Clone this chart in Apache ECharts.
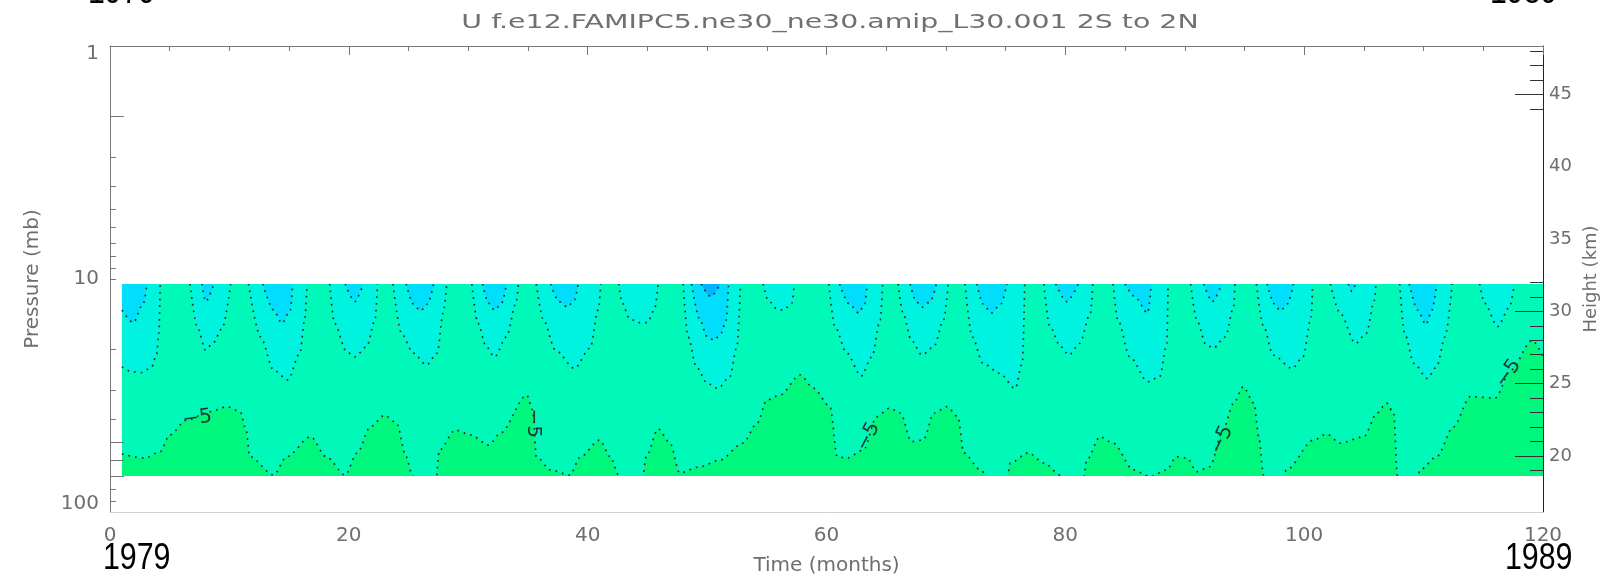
<!DOCTYPE html>
<html>
<head>
<meta charset="utf-8">
<script src="https://cdn.jsdelivr.net/npm/echarts@6.0.0/dist/echarts.min.js"></script>
<style>
  html, body { margin: 0; padding: 0; background: #fff; }
  #chart { width: 1602px; height: 579px; }
</style>
</head>
<body>
<div id="chart"></div>
<script>
// axis ticks / labels
const monthLabels = [0, 20, 40, 60, 80, 100, 120];
const monthMinorTicks = [5, 10, 15, 25, 30, 35, 45, 50, 55, 65, 70, 75, 85, 90, 95, 105, 110, 115];
const pressureLabels = [1, 10, 100];
const pressureShortTicks = [3, 4, 5, 6, 7, 8, 9, 10, 20, 30, 40, 80, 90];
const pressureLongTicks = [2, 50, 60, 70];
const heightLabels = [20, 25, 30, 35, 40, 45];
const heightMajorTicks = [20, 25, 30, 45];
const heightMinorTicks = [19, 21, 22, 23, 24, 26, 27, 28, 29, 31, 32, 44, 46, 47, 48];

// extent of the field (mb) and of the record (months)
const dataTop = 10.5;
const dataBottom = 70;
const firstMonth = 1;
const lastMonth = 120;

// -5 m/s contour [month, mb]; below 70 mb means no -5..0 band at the bottom
const contourMinus5 = [
  [1, 56.4], [2.9, 58.7], [4.2, 55.1], [5.0, 46.7], [6.4, 40.3], [8.4, 37.1], [9.8, 35.3],
  [10.9, 37.1], [11.4, 44.5], [11.7, 57.9], [13.7, 69.4], [14.8, 57.9], [16.8, 47.5],
  [18.1, 57.9], [19.7, 69.4], [20.7, 55.8], [21.8, 43.1], [23.0, 38.4], [24.0, 41.5],
  [24.8, 57.9], [25.3, 69.4], [25.7, 80], [27.2, 80], [27.6, 54.2], [28.9, 44.5],
  [30.2, 46.7], [31.7, 51.6], [32.7, 45.8], [34.9, 31.5], [35.4, 36.5], [35.7, 57.9],
  [36.9, 66.0], [38.5, 69.4], [39.4, 57.9], [41.0, 49.1], [41.9, 57.9], [42.6, 69.4],
  [43.0, 80], [44.5, 80], [44.9, 57.9], [45.9, 44.0], [46.9, 50.6], [47.7, 68.0],
  [49.4, 63.9], [51.1, 59.8], [53.0, 50.6], [54.2, 41.5], [55.0, 33.1], [56.1, 31.5],
  [57.8, 25.8], [58.9, 29.4], [60.3, 35.3], [60.9, 57.9], [61.7, 58.7], [63.1, 54.2],
  [64.2, 39.0], [65.3, 35.8], [66.2, 37.6], [67.1, 49.9], [68.1, 49.1], [69.0, 37.6],
  [70.1, 35.3], [71.0, 39.0], [71.5, 55.8], [72.9, 66.0], [73.4, 69.4], [73.8, 80],
  [75.0, 80], [75.4, 61.6], [76.9, 55.7], [78.2, 61.6], [79.6, 69.4], [80.0, 80],
  [81.4, 80], [81.8, 59.8], [82.9, 47.5], [84.0, 50.6], [85.7, 66.0], [87.1, 70.5],
  [88.5, 66.0], [89.3, 57.9], [90.2, 58.7], [91.0, 67.1], [92.1, 63.9], [93.2, 44.5],
  [94.1, 34.1], [94.9, 29.0], [95.8, 34.1], [96.2, 47.5], [96.6, 69.4], [97.0, 80],
  [98.0, 80], [98.5, 66.0], [100.8, 49.1], [101.9, 46.3], [103.0, 50.6], [105.0, 47.5],
  [106.1, 37.6], [106.9, 34.1], [107.5, 37.6], [107.8, 69.4], [108.1, 80], [109.3, 80],
  [109.7, 66.0], [111.1, 57.9], [112.5, 43.1], [113.9, 32.0], [116.0, 32.4],
  [117.3, 24.6], [119.1, 18.3], [120, 21.6]
];

// -10 m/s contour, one lobe per entry, hanging from the top of the field
const lobesMinus10 = [
  [[1, 23.8], [1.8, 25.0], [2.7, 25.2], [3.5, 23.8], [3.9, 21.0], [4.1, 17.0], [4.2, 10.5]],
  [[6.7, 10.5], [7.3, 16.0], [8.0, 20.2], [8.6, 18.9], [9.4, 16.3], [10.1, 10.5]],
  [[11.6, 10.5], [12.6, 17.7], [13.7, 24.6], [14.9, 27.1], [15.9, 20.8], [16.3, 15.0], [16.5, 10.5]],
  [[18.4, 10.5], [18.8, 15.5], [19.8, 20.5], [20.5, 21.6], [21.5, 19.5], [22.2, 15.0], [22.4, 10.5]],
  [[23.7, 10.5], [24.4, 17.1], [25.4, 20.8], [26.5, 23.4], [27.4, 20.8], [27.9, 14.0], [28.2, 10.5]],
  [[30.3, 10.5], [30.8, 15.5], [31.5, 19.5], [32.2, 21.6], [33.2, 17.7], [34.0, 12.7], [34.2, 10.5]],
  [[35.7, 10.5], [36.3, 15.0], [37.3, 20.2], [38.9, 24.2], [40.2, 19.8], [40.9, 13.5], [41.1, 10.5]],
  [[42.6, 10.5], [42.9, 12.7], [43.5, 14.8], [44.3, 15.4], [45.0, 15.4], [45.6, 13.5], [45.9, 10.5]],
  [[48.0, 10.5], [48.4, 17.7], [49.1, 23.8], [50.0, 28.0], [50.9, 29.5], [51.9, 26.3], [52.5, 19.5], [52.8, 10.5]],
  [[54.7, 10.5], [55.1, 12.3], [55.8, 13.4], [56.4, 13.6], [57.1, 12.7], [57.3, 10.5]],
  [[60.2, 10.5], [60.7, 16.0], [61.7, 20.8], [62.9, 26.1], [63.8, 21.6], [64.5, 15.0], [64.7, 10.5]],
  [[66.0, 10.5], [66.4, 14.0], [67.1, 18.3], [68.0, 21.2], [69.0, 19.5], [69.8, 15.0], [70.2, 10.5]],
  [[71.6, 10.5], [72.2, 17.7], [73.1, 23.0], [74.5, 25.4], [75.8, 29.5], [76.4, 23.0], [76.6, 10.5]],
  [[78.2, 10.5], [78.7, 16.0], [79.6, 19.5], [80.3, 21.2], [81.2, 18.9], [82.1, 14.0], [82.3, 10.5]],
  [[84.0, 10.5], [84.4, 15.0], [85.4, 21.6], [86.9, 27.6], [87.9, 26.3], [88.5, 18.9], [88.6, 10.5]],
  [[90.5, 10.5], [91.0, 15.0], [91.8, 19.2], [92.4, 19.8], [93.4, 17.7], [94.1, 13.2], [94.2, 10.5]],
  [[96.0, 10.5], [96.6, 16.0], [97.4, 21.2], [99.0, 24.2], [99.9, 21.6], [100.6, 14.5], [100.7, 10.5]],
  [[102.2, 10.5], [103.0, 14.0], [104.3, 18.9], [105.2, 17.1], [105.9, 12.3], [106.0, 10.5]],
  [[108.0, 10.5], [108.4, 17.1], [109.2, 23.0], [110.3, 26.7], [111.1, 23.8], [111.8, 17.7], [112.4, 10.5]],
  [[114.7, 10.5], [115.1, 12.7], [116.2, 16.0], [117.2, 13.2], [117.6, 10.5]]
];

// -15 m/s contour lobes
const lobesMinus15 = [
  [[1, 13.6], [1.95, 15.4], [2.8, 12.7], [3.1, 10.5]],
  [[7.7, 10.5], [8.0, 12.5], [8.7, 10.5]],
  [[12.8, 10.5], [13.7, 13.6], [14.4, 15.5], [15.1, 13.6], [15.3, 10.5]],
  [[19.7, 10.5], [20.5, 12.5], [21.2, 10.5]],
  [[24.8, 10.5], [25.4, 12.8], [26.0, 13.7], [26.6, 12.8], [27.1, 10.5]],
  [[31.2, 10.5], [31.7, 12.7], [32.2, 13.6], [32.8, 12.7], [33.2, 10.5]],
  [[36.9, 10.5], [37.6, 12.5], [38.3, 13.2], [38.9, 12.3], [39.2, 10.5]],
  [[48.7, 10.5], [49.4, 15.0], [50.0, 17.7], [50.6, 18.3], [51.2, 17.0], [51.6, 15.0], [51.8, 10.5]],
  [[61.1, 10.5], [61.9, 12.8], [62.7, 14.0], [63.2, 12.8], [63.4, 10.5]],
  [[67.0, 10.5], [67.5, 12.5], [68.0, 13.2], [68.7, 12.5], [69.2, 10.5]],
  [[72.6, 10.5], [73.1, 12.8], [73.8, 14.0], [74.6, 12.8], [75.1, 10.5]],
  [[79.2, 10.5], [80.1, 12.5], [81.1, 10.5]],
  [[85.0, 10.5], [85.8, 11.9], [86.9, 14.0], [87.2, 10.5]],
  [[91.6, 10.5], [92.3, 12.5], [93.1, 10.5]],
  [[96.9, 10.5], [97.5, 12.8], [98.0, 13.7], [98.6, 12.8], [99.1, 10.5]],
  [[103.7, 10.5], [104.0, 11.3], [104.3, 10.5]],
  [[108.8, 10.5], [109.5, 13.6], [110.2, 15.7], [110.7, 13.6], [111.1, 10.5]]
];

// -20 m/s contour lobes
const lobesMinus20 = [
  [[49.5, 10.5], [50.3, 11.9], [51.1, 10.5]]
];

// where the -5 labels sit [month, mb]
const minus5LabelAt = [[7.3, 39.6], [35.4, 41.6], [63.5, 47.5], [93.1, 49.1], [117.1, 25.4]];

const titleText = 'U f.e12.FAMIPC5.ne30_ne30.amip_L30.001 2S to 2N';

// ---- styling ----
const font = 'DejaVu Sans';
const grey = '#6e6e6e';
const colMain = '#00f9b8';
const colLow = '#00f77e';
const col10 = '#00f3df';
const col15 = '#00defc';
const col20 = '#00b4ff';
const labelAngles = [8, -90, 62, 65, 55];
const heightOf = p => 7 * Math.log(1000 / p);   // 7 km scale height

function fillSeries(data, color, origin, z) {
  return {
    type: 'line', data: data, xAxisIndex: 0, yAxisIndex: 0,
    symbol: 'none', smooth: 0.3, smoothMonotone: 'x', silent: true,
    lineStyle: { width: 0, opacity: 0 },
    areaStyle: { color: color, opacity: 1, origin: origin },
    z: z
  };
}
function contourSeries(data, color, origin) {
  const s = fillSeries(data, color, origin, 2);
  s.lineStyle = { color: '#2b2b2b', width: 1.7, type: [1.7, 5] };
  return s;
}

const series = [];
series.push(fillSeries([[firstMonth, dataBottom], [lastMonth, dataBottom]], colMain, 'start', 1));
const s5 = contourSeries(contourMinus5, colLow, 'end');
s5.markPoint = {
  symbol: 'circle', symbolSize: 1, silent: true,
  itemStyle: { color: 'rgba(0,0,0,0)' },
  label: { show: true, color: '#1e3a33', fontSize: 20, fontFamily: font, formatter: p => p.name },
  data: minus5LabelAt.map((c, i) => ({ name: '\u22125', coord: c, label: { rotate: labelAngles[i] } }))
};
series.push(s5);
lobesMinus10.forEach(l => series.push(contourSeries(l, col10, 'start')));
lobesMinus15.forEach(l => series.push(contourSeries(l, col15, 'start')));
lobesMinus20.forEach(l => series.push(contourSeries(l, col20, 'start')));
// blank above the top level and below the bottom level
series.push(fillSeries([[0, dataTop], [120, dataTop]], '#ffffff', 'start', 3));
series.push(fillSeries([[0, dataBottom], [120, dataBottom]], '#ffffff', 'end', 3));

const gridBox = { left: 110, right: 59, top: 46, bottom: 67, outerBoundsMode: 'none' };
const tickGrey = { color: '#777' };
const tickDark = { color: '#333' };

const option = {
  animation: false,
  backgroundColor: '#ffffff',
  grid: [Object.assign({}, gridBox), Object.assign({}, gridBox)],
  xAxis: [
    {
      gridIndex: 0, type: 'value', min: 0, max: 120, position: 'bottom', z: 10,
      axisLine: { show: true, onZero: false, lineStyle: { color: '#d2d2d2', width: 1 } },
      axisTick: { show: false }, splitLine: { show: false },
      axisLabel: { color: grey, fontSize: 20, fontFamily: font, margin: 14, customValues: monthLabels },
      name: 'Time (months)', nameLocation: 'middle', nameGap: 44,
      nameTextStyle: { color: grey, fontSize: 20, fontFamily: font }
    },
    {
      gridIndex: 0, type: 'value', min: 0, max: 120, position: 'top', z: 10,
      axisLine: { show: true, onZero: false, lineStyle: { color: '#777', width: 1 } },
      axisTick: { show: true, inside: true, length: 5, customValues: monthMinorTicks, lineStyle: tickGrey },
      axisLabel: { show: false }, splitLine: { show: false }
    },
    {
      gridIndex: 1, type: 'value', min: 0, max: 120, position: 'top', z: 10,
      axisLine: { show: false, onZero: false },
      axisTick: { show: true, inside: true, length: 9, customValues: monthLabels, lineStyle: tickGrey },
      axisLabel: { show: false }, splitLine: { show: false }
    }
  ],
  yAxis: [
    {
      gridIndex: 0, type: 'log', logBase: 10, min: 1, max: 100, inverse: true, position: 'left', z: 10,
      axisLine: { show: true, onZero: false, lineStyle: { color: '#777', width: 1 } },
      axisTick: { show: true, inside: true, length: 6, customValues: pressureShortTicks, lineStyle: tickGrey },
      axisLabel: {
        color: grey, fontSize: 20, fontFamily: font, margin: 11, lineHeight: 16,
        customValues: pressureLabels, verticalAlignMinLabel: 'top', verticalAlignMaxLabel: 'bottom'
      },
      splitLine: { show: false },
      name: 'Pressure (mb)', nameLocation: 'middle', nameGap: 67,
      nameTextStyle: { color: grey, fontSize: 20, fontFamily: font }
    },
    {
      gridIndex: 0, type: 'value', min: heightOf(100), max: heightOf(1), position: 'right', z: 10,
      axisLine: { show: false, onZero: false },
      axisTick: { show: true, inside: true, length: 13, customValues: heightMinorTicks, lineStyle: tickDark },
      axisLabel: { show: false }, splitLine: { show: false }
    },
    {
      gridIndex: 1, type: 'log', logBase: 10, min: 1, max: 100, inverse: true, position: 'left', z: 10,
      axisLine: { show: false, onZero: false },
      axisTick: { show: true, inside: true, length: 14, customValues: pressureLongTicks, lineStyle: tickGrey },
      axisLabel: { show: false }, splitLine: { show: false }
    },
    {
      gridIndex: 1, type: 'value', min: heightOf(100), max: heightOf(1), position: 'right', z: 10,
      axisLine: { show: true, onZero: false, lineStyle: { color: '#1c2624', width: 1 } },
      axisTick: { show: true, inside: true, length: 28, customValues: heightMajorTicks, lineStyle: tickDark },
      axisLabel: { color: grey, fontSize: 18, fontFamily: font, margin: 6, customValues: heightLabels },
      splitLine: { show: false },
      name: 'Height (km)', nameLocation: 'middle', nameGap: 34,
      nameTextStyle: { color: grey, fontSize: 18, fontFamily: font }
    }
  ],
  graphic: [
    { type: 'text', x: 830, y: 23, scaleX: 1.42, silent: true,
      style: { text: titleText, fill: '#707070', fontSize: 20, fontFamily: font, align: 'center', verticalAlign: 'middle' } },
    { type: 'text', x: 103, y: 559, scaleX: 0.82, silent: true,
      style: { text: '1979', fill: '#000', fontSize: 37, fontFamily: 'Liberation Sans', align: 'left', verticalAlign: 'middle' } },
    { type: 'text', x: 1505, y: 559, scaleX: 0.82, silent: true,
      style: { text: '1989', fill: '#000', fontSize: 37, fontFamily: 'Liberation Sans', align: 'left', verticalAlign: 'middle' } },
    { type: 'text', x: 88, y: -7, scaleX: 0.82, silent: true,
      style: { text: '1979', fill: '#000', fontSize: 37, fontFamily: 'Liberation Sans', align: 'left', verticalAlign: 'middle' } },
    { type: 'text', x: 1490, y: -7, scaleX: 0.82, silent: true,
      style: { text: '1989', fill: '#000', fontSize: 37, fontFamily: 'Liberation Sans', align: 'left', verticalAlign: 'middle' } }
  ],
  series: series
};

const chart = echarts.init(document.getElementById('chart'));
chart.setOption(option);
</script>
</body>
</html>
